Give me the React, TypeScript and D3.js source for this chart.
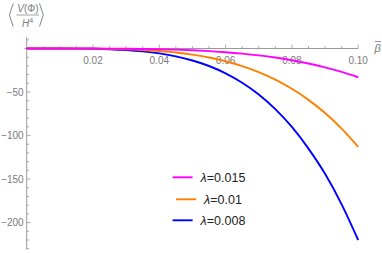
import React from "react";
import * as d3 from "d3";

const betas = [0, 0.005, 0.01, 0.015, 0.02, 0.025, 0.03, 0.035, 0.04, 0.045, 0.05, 0.055, 0.06, 0.065, 0.07, 0.075, 0.08, 0.085, 0.09, 0.095, 0.1];
const seriesBlue = [0, -0.001, -0.02, -0.11, -0.35, -0.86, -1.8, -3.3, -5.6, -9.0, -13.8, -20.1, -28.5, -39.3, -52.8, -69.6, -90.1, -115, -144, -179, -220];
const seriesOrange = [0, 0, -0.01, -0.06, -0.18, -0.44, -0.92, -1.7, -2.9, -4.6, -7.1, -10.3, -14.6, -20.2, -27.1, -35.8, -46.3, -59.0, -74.1, -92.0, -113];
const seriesMagenta = [0, 0, 0, -0.02, -0.05, -0.13, -0.27, -0.5, -0.84, -1.35, -2.06, -3.0, -4.28, -5.9, -7.9, -10.4, -13.5, -17.2, -21.7, -26.9, -33];
const legendLabels = ["0.015", "0.01", "0.008"];
const xTickLabels = [0.02, 0.04, 0.06, 0.08, 0.1];
const yTickLabels = [-50, -100, -150, -200];

const colors = ["#ff00ff", "#ff8000", "#0000ff"];

export default function App() {
  const x = d3.scaleLinear().domain([0, 0.1]).range([26.7, 358.2]);
  const y = d3.scaleLinear().domain([0, -200]).range([48.5, 222.6]);
  const axisColor = "#9a9a9a";
  const labelColor = "#7a7a7a";
  const font = "'Liberation Sans', Arial, sans-serif";

  const line = d3
    .line<number>()
    .x((_, i) => x(betas[i]))
    .y((d) => y(d))
    .curve(d3.curveMonotoneX);

  const xMinor = d3.range(0, 21).map((i) => i * 0.005).filter((v) => v > 0.0001);
  const yMinor = d3.range(1, -24, -1).map((i) => i * 10).filter((v) => v !== 0);

  const series = [seriesBlue, seriesOrange, seriesMagenta];
  const seriesColors = ["#0000ff", "#ff8000", "#ff00ff"];

  const legendY = [177.3, 199.3, 220.3];

  return (
    <svg
      width={382}
      height={253}
      style={{ position: "absolute", left: 0, top: 0, background: "#fff" }}
      fontFamily={font}
    >
      {/* x axis */}
      <line x1={24.5} x2={x(0.1)} y1={y(0)} y2={y(0)} stroke={axisColor} strokeWidth={1} />
      {xMinor.map((v, i) => {
        const major = Math.abs((v / 0.02) - Math.round(v / 0.02)) < 1e-6;
        return (
          <line
            key={"xm" + i}
            x1={x(v)}
            x2={x(v)}
            y1={y(0)}
            y2={y(0) - (major ? 4 : 2.5)}
            stroke={axisColor}
            strokeWidth={0.8}
          />
        );
      })}
      {xTickLabels.map((v) => (
        <text
          key={"xl" + v}
          x={x(v)}
          y={y(0) + 15}
          fontSize={10}
          fill={labelColor}
          textAnchor="middle"
        >
          {v.toFixed(2)}
        </text>
      ))}
      {/* y axis */}
      <line x1={x(0)} x2={x(0)} y1={37} y2={249.5} stroke={axisColor} strokeWidth={1} />
      {yMinor.map((v) => {
        const major = v % 50 === 0;
        return (
          <line
            key={"ym" + v}
            x1={x(0)}
            x2={x(0) + (major ? 4 : 2.5)}
            y1={y(v)}
            y2={y(v)}
            stroke={axisColor}
            strokeWidth={0.8}
          />
        );
      })}
      {yTickLabels.map((v) => (
        <text
          key={"yl" + v}
          x={x(0) - 3}
          y={y(v) + 3.5}
          fontSize={10}
          fill={labelColor}
          textAnchor="end"
        >
          {"\u2212" + Math.abs(v)}
        </text>
      ))}
      {/* curves */}
      {series.map((s, i) => (
        <path
          key={"s" + i}
          d={line(s) || ""}
          fill="none"
          stroke={seriesColors[i]}
          strokeWidth={1.9}
        />
      ))}
      {/* legend */}
      {legendLabels.map((lab, i) => {
        const cx = 209.6;
        const textW = lab.length === 4 ? 39 : 46;
        const total = 20 + 8 + textW;
        const x0 = cx - total / 2;
        return (
          <g key={"lg" + i}>
            <line x1={x0} x2={x0 + 20} y1={legendY[i]} y2={legendY[i]} stroke={colors[i]} strokeWidth={1.9} />
            <text x={x0 + 28} y={legendY[i] + 4.5} fontSize={12.5} fill="#222">
              <tspan fontStyle="italic">λ</tspan>
              <tspan>{"=" + lab}</tspan>
            </text>
          </g>
        );
      })}
      {/* y axis label */}
      <path d="M13.2,3.5 L9.4,15 L13.2,26.5" fill="none" stroke={labelColor} strokeWidth={0.9} />
      <path d="M39.5,3.5 L43.3,15 L39.5,26.5" fill="none" stroke={labelColor} strokeWidth={0.9} />
      <text x={28} y={11.5} fontSize={10} fill={labelColor} textAnchor="middle">
        <tspan fontStyle="italic">V</tspan>
        <tspan>(Φ)</tspan>
      </text>
      <line x1={16.5} x2={39} y1={15} y2={15} stroke={labelColor} strokeWidth={0.7} />
      <text x={27.5} y={26.5} fontSize={10} fill={labelColor} textAnchor="middle">
        <tspan fontStyle="italic">H</tspan>
        <tspan fontSize={7} dy={-3.5}>4</tspan>
      </text>
      {/* x axis label */}
      <text x={374.5} y={51.5} fontSize={11} fill={labelColor} fontStyle="italic">
        β
      </text>
      <line x1={375} x2={381} y1={41.5} y2={41.5} stroke={labelColor} strokeWidth={0.8} />
    </svg>
  );
}
